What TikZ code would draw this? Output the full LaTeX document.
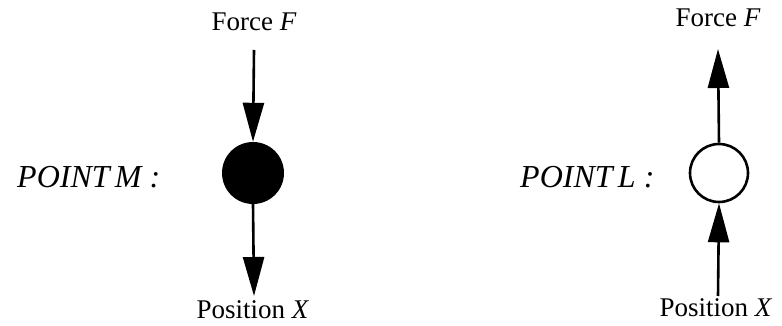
\documentclass[tikz,border=0pt]{standalone}
\usepackage{fontspec}
\setmainfont{Liberation Serif}
\usetikzlibrary{arrows.meta}
\begin{document}
\begin{tikzpicture}[x=1pt,y=-1pt,
  lbl/.style={font=\fontsize{27}{30}\selectfont, inner sep=0pt},
  ptlbl/.style={font=\fontsize{32}{36}\selectfont\itshape, inner sep=0pt, anchor=base west},
  conn/.style={line width=2.6pt, -{Triangle[length=39pt,width=21pt]}},
  ballM/.style={circle, fill=black, minimum size=62pt, inner sep=0pt},
  ballL/.style={circle, draw=black, line width=2.6pt, fill=white, minimum size=58pt, inner sep=0pt}]
\useasboundingbox (0,0) rectangle (782,326);
% left
\node[lbl] (fM) at (254,22) {Force \textit{F}};
\coordinate (fMs) at (254,50);
\node[ballM] (M) at (253,173) {};
\node[lbl] (xM) at (253,310) {Position \textit{X}};
\coordinate (xMe) at (254,296);
\draw[conn] (fMs) -- (M.north);
\draw[conn] (M.south) -- (xMe);
\node[ptlbl] (pM) at (17,188) {POINT\,M :};
% right
\node[lbl] (fL) at (718,18) {Force \textit{F}};
\coordinate (fLe) at (718,49);
\node[ballL] (L) at (719,173) {};
\node[lbl] (xL) at (716,308) {Position \textit{X}};
\coordinate (xLs) at (718,296);
\draw[conn] (L.north) -- (fLe);
\draw[conn] (xLs) -- (L.south);
\node[ptlbl] (pL) at (520,188) {POINT\,L :};
\end{tikzpicture}
\end{document}
